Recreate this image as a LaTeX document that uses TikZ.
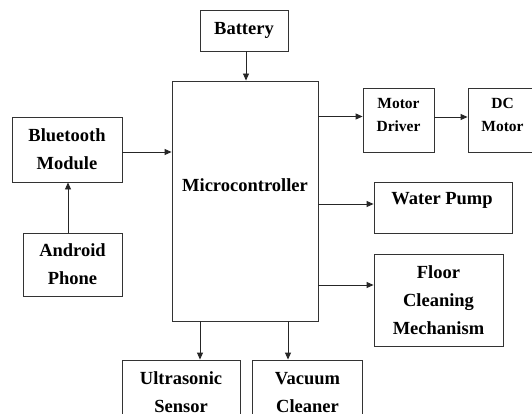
\documentclass[tikz,border=0pt]{standalone}
\usepackage{fontspec}
\setmainfont{Liberation Serif}
\usetikzlibrary{arrows.meta}
\tikzset{
  blk/.style={draw=black!80, line width=0.9pt, rectangle, inner sep=0pt, align=center,
    font=\fontsize{18.5}{28}\selectfont\bfseries},
  smallblk/.style={blk, font=\fontsize{15.5}{23}\selectfont\bfseries},
  lbl/.style={inner sep=0pt, align=center, font=\fontsize{18.5}{28}\selectfont\bfseries},
  arr/.style={draw=black!85, line width=0.9pt, -{Triangle[length=7pt,width=6pt]}}
}
\begin{document}
\begin{tikzpicture}[x=1pt,y=-1pt]
\useasboundingbox (0,0) rectangle (532,414);
\clip (0,0) rectangle (532,414);
\fill[white] (0,0) rectangle (532,414);
% boxes
\node[blk, minimum width=88, minimum height=41] (bat) at (244,30.5) {Battery};
\node[blk, minimum width=146, minimum height=240] (mc) at (245,201) {};
\node[lbl] (mctext) at (245,185) {Microcontroller};
\node[blk, minimum width=110, minimum height=65] (bt) at (67,149.5) {Bluetooth\\Module};
\node[blk, minimum width=99, minimum height=63] (ap) at (72.5,264.5) {Android\\Phone};
\node[smallblk, minimum width=71, minimum height=64] (md) at (398.5,120) {};
\node[inner sep=0pt, align=center, font=\fontsize{15.5}{23}\selectfont\bfseries] (mdtext) at (398.5,115.5) {Motor\\Driver};
\node[smallblk, minimum width=70, minimum height=64] (dc) at (503,120) {};
\node[inner sep=0pt, align=center, font=\fontsize{15.5}{23}\selectfont\bfseries] (dctext) at (502.5,114.5) {DC\\Motor};
\node[blk, minimum width=138, minimum height=51] (wp) at (443,207.5) {};
\node[lbl] (wptext) at (442,200) {Water Pump};
\node[blk, minimum width=129, minimum height=92] (fc) at (438.5,300) {Floor\\Cleaning\\Mechanism};
\node[blk, minimum width=118, minimum height=65] (us) at (181,392.5) {Ultrasonic\\Sensor};
\node[blk, minimum width=110, minimum height=65] (vc) at (307.5,392.5) {Vacuum\\Cleaner};
% connectors
\draw[arr] ([xshift=2pt]bat.south) -- ([xshift=2pt]bat.south |- mc.north);
\draw[arr] ([yshift=-2.5pt]bt.east) -- ([yshift=-2.5pt]bt.east -| mc.west);
\draw[arr] ([xshift=1pt]bt.south |- ap.north) -- ([xshift=1pt]bt.south);
\draw[arr] ([yshift=3.5pt]mc.east |- md.west) -- ([yshift=3.5pt]md.west);
\draw[arr] ([yshift=3pt]md.east) -- ([yshift=3pt]md.east -| dc.west);
\draw[arr] ([yshift=3.5pt]mc.east |- wp.west) -- ([yshift=3.5pt]wp.west);
\draw[arr] ([yshift=15pt]mc.east |- fc.west) -- ([yshift=15pt]fc.west);
\draw[arr] ([xshift=19pt]us.north |- mc.south) -- ([xshift=19pt]us.north);
\draw[arr] ([xshift=-19.5pt]vc.north |- mc.south) -- ([xshift=-19.5pt]vc.north);
\end{tikzpicture}
\end{document}
